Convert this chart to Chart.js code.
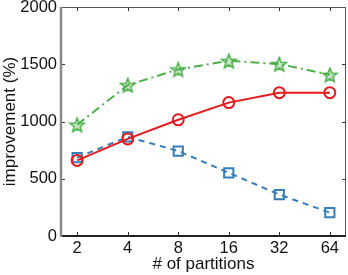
<!DOCTYPE html>
<html>
<head>
<meta charset="utf-8">
<script src="https://cdn.jsdelivr.net/npm/chart.js@4/dist/chart.umd.min.js"></script>
<style>
  html, body { margin: 0; padding: 0; background: #fff; }
  #wrap { width: 348px; height: 275px; }
</style>
</head>
<body>
<div id="wrap"><canvas id="myChart"></canvas></div>
<script>
// data
const partitions = ['2', '4', '8', '16', '32', '64'];
const greenStar = [972, 1318, 1455, 1530, 1502, 1408];
const redCircle = [660, 848, 1015, 1165, 1252, 1252];
const blueSquare = [685, 866, 742, 552, 362, 204];
const yTicks = [0, 500, 1000, 1500, 2000];

const GREEN = '#4daf4a';
const RED = '#e41a1c';
const BLUE = '#377eb8';
const FONT = 'Liberation Sans, Arial, sans-serif';

// outlined five point star, matlab style
function makeStar(color) {
    const c = document.createElement('canvas');
    c.width = 18; c.height = 18;
    const g = c.getContext('2d');
    g.beginPath();
    for (let i = 0; i < 10; i++) {
        const r = i % 2 === 0 ? 7.5 : 3.2;
        const a = -Math.PI / 2 + i * Math.PI / 5;
        const px = 9 + r * Math.cos(a), py = 9.8 + r * Math.sin(a);
        if (i === 0) g.moveTo(px, py); else g.lineTo(px, py);
    }
    g.closePath();
    g.fillStyle = 'rgba(77,175,74,0.3)';
    g.fill();
    g.strokeStyle = color;
    g.lineWidth = 1.5;
    g.stroke();
    return c;
}

function toXY(arr) {
    return arr.map((v, i) => ({ x: i, y: v }));
}

// inward tick marks and box frame
const frame = {
    id: 'frame',
    afterDraw(chart) {
        const ctx = chart.ctx;
        const a = chart.chartArea;
        const xs = chart.scales.x, ys = chart.scales.y;
        ctx.save();
        ctx.lineWidth = 1;
        ctx.strokeStyle = '#333';
        partitions.forEach((p, i) => {
            const px = Math.round(xs.getPixelForValue(i)) + 0.5;
            ctx.beginPath();
            ctx.moveTo(px, a.bottom); ctx.lineTo(px, a.bottom - 4);
            ctx.moveTo(px, a.top); ctx.lineTo(px, a.top + 4);
            ctx.stroke();
        });
        yTicks.forEach(v => {
            const py = Math.round(ys.getPixelForValue(v)) + 0.5;
            ctx.beginPath();
            ctx.moveTo(a.left, py); ctx.lineTo(a.left + 4, py);
            ctx.moveTo(a.right, py); ctx.lineTo(a.right - 4, py);
            ctx.stroke();
        });
        ctx.strokeStyle = '#555';
        ctx.lineWidth = 1;
        ctx.beginPath();
        ctx.moveTo(a.left, a.top + 0.5); ctx.lineTo(a.right, a.top + 0.5);
        ctx.moveTo(a.right - 0.5, a.top); ctx.lineTo(a.right - 0.5, a.bottom);
        ctx.stroke();
        ctx.strokeStyle = '#222';
        ctx.lineWidth = 2;
        ctx.beginPath();
        ctx.moveTo(a.left, a.bottom); ctx.lineTo(a.right, a.bottom);
        ctx.stroke();
        ctx.strokeStyle = '#888';
        ctx.lineWidth = 2.5;
        ctx.beginPath();
        ctx.moveTo(a.left, a.top); ctx.lineTo(a.left, a.bottom + 1);
        ctx.stroke();
        ctx.restore();
    }
};

const ctx = document.getElementById('myChart').getContext('2d');
const myChart = new Chart(ctx, {
    type: 'line',
    data: {
        datasets: [{
            label: 'star',
            data: toXY(greenStar),
            borderColor: GREEN,
            borderWidth: 2,
            borderDash: [9, 4, 2, 4],
            pointStyle: makeStar(GREEN),
            pointRadius: 8,
            fill: false,
            tension: 0
        }, {
            label: 'circle',
            data: toXY(redCircle),
            borderColor: RED,
            borderWidth: 2,
            pointStyle: 'circle',
            pointRadius: 5.5,
            pointBorderWidth: 2,
            pointBackgroundColor: 'rgba(255,255,255,0)',
            pointBorderColor: RED,
            fill: false,
            tension: 0
        }, {
            label: 'square',
            data: toXY(blueSquare),
            borderColor: BLUE,
            borderWidth: 2,
            borderDash: [6, 5],
            pointStyle: 'rect',
            pointRadius: 6.5,
            pointBorderWidth: 2,
            pointBackgroundColor: 'rgba(255,255,255,0)',
            pointBorderColor: BLUE,
            fill: false,
            tension: 0
        }]
    },
    options: {
        responsive: true,
        maintainAspectRatio: false,
        animation: false,
        layout: { autoPadding: false, padding: { top: 7, right: 2, left: 0, bottom: 0 } },
        plugins: {
            legend: { display: false },
            tooltip: { enabled: false }
        },
        scales: {
            x: {
                type: 'linear',
                min: -0.32,
                max: 5.32,
                afterBuildTicks: axis => {
                    axis.ticks = partitions.map((p, i) => ({ value: i }));
                },
                afterFit: axis => {
                    axis.height = 39;
                    axis.paddingLeft = 0;
                    axis.paddingRight = 0;
                },
                grid: { display: false, drawTicks: false },
                border: { display: false },
                ticks: {
                    color: '#111',
                    padding: 3,
                    maxRotation: 0,
                    font: { family: FONT, size: 16.5 },
                    callback: v => partitions[v]
                },
                title: {
                    display: true,
                    text: '# of partitions',
                    color: '#111',
                    padding: 0,
                    font: { family: FONT, size: 17 }
                }
            },
            y: {
                min: 0,
                max: 2000,
                afterBuildTicks: axis => {
                    axis.ticks = yTicks.map(v => ({ value: v }));
                },
                afterFit: axis => {
                    axis.width = 61;
                    axis.paddingTop = 0;
                    axis.paddingBottom = 0;
                },
                grid: { display: false, drawTicks: false },
                border: { display: false },
                ticks: {
                    color: '#111',
                    padding: 4,
                    font: { family: FONT, size: 16.5 },
                    callback: v => String(v)
                },
                title: {
                    display: true,
                    text: 'improvement (%)',
                    color: '#111',
                    padding: 0,
                    font: { family: FONT, size: 17 }
                }
            }
        }
    },
    plugins: [frame]
});
</script>
</body>
</html>
